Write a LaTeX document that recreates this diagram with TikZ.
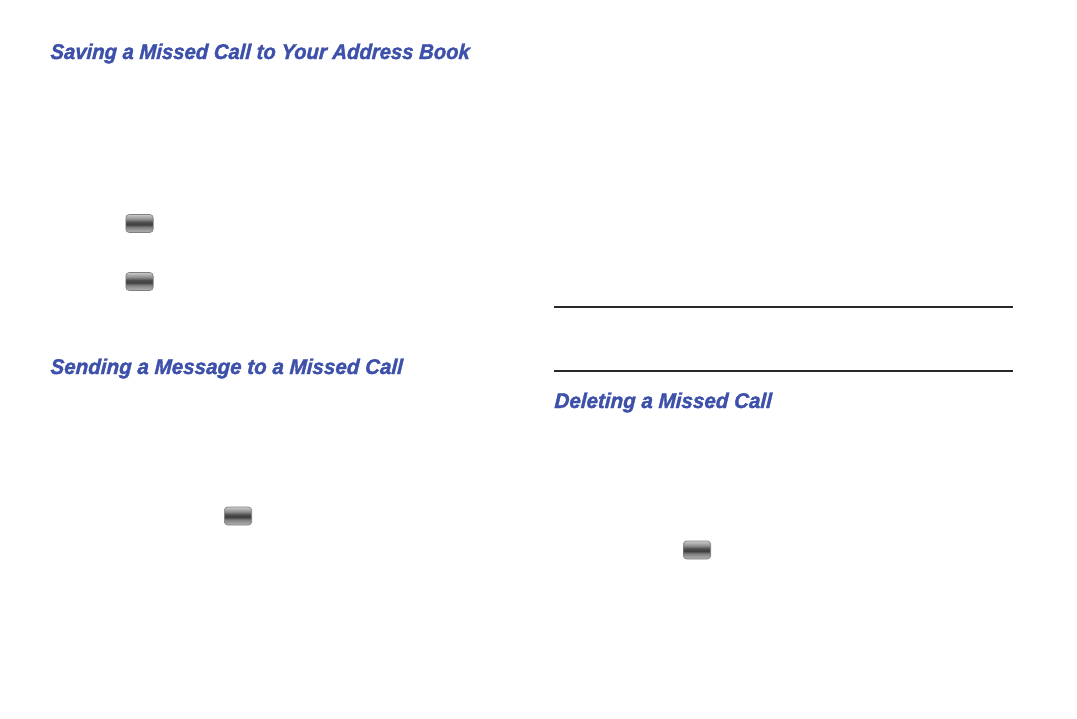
\documentclass[tikz,border=0pt]{standalone}
\usepackage{fontspec}
\setmainfont{Liberation Sans}
\newfontfamily\headfont[FakeStretch=0.95,FakeBold=1.6,FakeSlant=0.05]{Liberation Sans Bold Italic}
\newfontfamily\headwide[FakeStretch=0.965,FakeBold=1.6,FakeSlant=0.05]{Liberation Sans Bold Italic}
\usetikzlibrary{positioning}
\definecolor{headblue}{RGB}{62,81,170}
\definecolor{rulegray}{RGB}{40,40,40}
\pgfdeclareverticalshading{keyshade}{100bp}{
  color(0bp)=(black!30); color(25bp)=(black!30); color(30bp)=(black!35); color(40bp)=(black!50);
  color(47bp)=(black!75); color(54bp)=(black!70); color(62bp)=(black!45); color(70bp)=(black!30); color(75bp)=(black!20); color(100bp)=(black!20)}
\tikzset{
  heading/.style={anchor=base west,inner sep=0pt,text=headblue,
    font=\fontsize{16}{18}\headfont},
  headingwide/.style={heading,font=\fontsize{16}{18}\headwide},
  softkey/.style={minimum width=20.5pt,minimum height=13.5pt,inner sep=0pt,rounded corners=2.5pt,
    draw=black!50,line width=0.5pt,shading=keyshade,shading angle=0},
  notebar/.style={draw=rulegray,line width=1.7pt}
}
\begin{document}
\begin{tikzpicture}[x=0.75pt,y=-0.75pt]
\useasboundingbox (0,0) rectangle (1077,718);
\node [heading] (saving) at (50,59) {Saving a Missed Call to Your Address Book};
\node [headingwide] (sending) at (50,374) {Sending a Message to a Missed Call};
\node [headingwide] (deleting) at (554,408) {Deleting a Missed Call};

\node [softkey] (key1) at (139.5,223.5) {};
\node [softkey] (key2) at (139.5,281.5) {};
\node [softkey] (key3) at (238,516) {};
\node [softkey] (key4) at (697,550) {};

\coordinate (a0) at (554,307);
\coordinate (a1) at (1013,307);
\coordinate (b0) at (554,371);
\coordinate (b1) at (1013,371);
\draw [notebar] (a0) -- (a1);
\draw [notebar] (b0) -- (b1);
\end{tikzpicture}
\end{document}
